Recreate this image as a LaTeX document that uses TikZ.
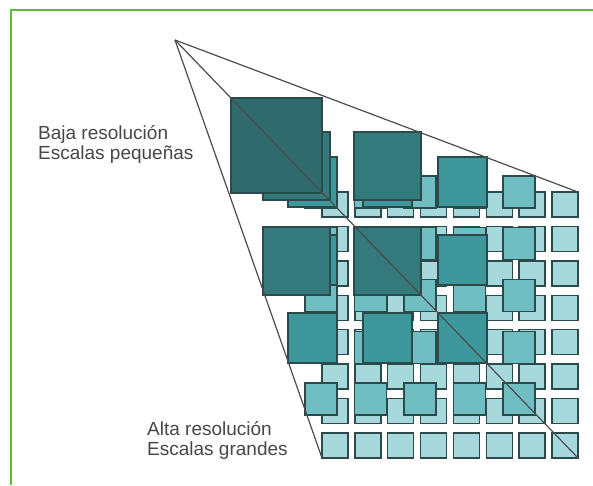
\documentclass[tikz,border=0pt]{standalone}
\usepackage{fontspec}
\setmainfont{Liberation Sans}
\usepackage{tikz}
\usetikzlibrary{positioning}

\definecolor{frame}{HTML}{5DBB3A}
\definecolor{tileedge}{HTML}{2A4A4B}
\definecolor{tileA}{HTML}{A7D9DC}
\definecolor{tileB}{HTML}{70BEC2}
\definecolor{tileC}{HTML}{3E979A}
\definecolor{tileD}{HTML}{34797B}
\definecolor{tileE}{HTML}{2F6B6C}
\definecolor{label}{HTML}{474747}

\tikzset{
  tile/.style={draw=tileedge, line width=1.4pt},
  ray/.style={draw=black!70, line width=1.2pt},
  caption/.style={anchor=base west, align=left, inner sep=0pt, text=label,
    font=\fontsize{19}{20}\selectfont}
}

\begin{document}
\begin{tikzpicture}[x=1pt, y=-1pt]
  \useasboundingbox (0,0) rectangle (593,485);
  % green frame (only top and left edges show)
  \draw[frame, line width=1.5pt] (11,485) -- (11,10) -- (593,10);

  % pyramid levels, finest first
  \foreach \n/\xa/\ya/\xb/\yb/\cw/\ch/\col in {
      8/322/192/578/458/26/25/tileA,
      5/305/176/535/415/32/32/tileB,
      3/288/157/487/363/49/50/tileC,
      2/263/132/421/295/67/68/tileD,
      1/231/98/322/193/91/95/tileE}{
    \pgfmathsetmacro{\px}{(\xb-\xa-\cw)/max(\n-1,1)}
    \pgfmathsetmacro{\py}{(\yb-\ya-\ch)/max(\n-1,1)}
    \foreach \i in {1,...,\n}
      \foreach \j in {1,...,\n}
        \draw[tile, fill=\col] ({\xa+(\i-1)*\px},{\ya+(\j-1)*\py}) rectangle ++(\cw,\ch);
  }

  % rays from the apex
  \coordinate (apex) at (175,40);
  \coordinate (topright) at (578,192);
  \coordinate (botright) at (578,458);
  \coordinate (botleft) at (322,458);
  \draw[ray] (apex) -- (topright);
  \draw[ray] (apex) -- (botright);
  \draw[ray] (apex) -- (botleft);

  \node[caption] (low) at (38,159) {Baja resolución\\Escalas pequeñas};
  \node[caption] (high) at (147,455) {Alta resolución\\Escalas grandes};
\end{tikzpicture}
\end{document}
